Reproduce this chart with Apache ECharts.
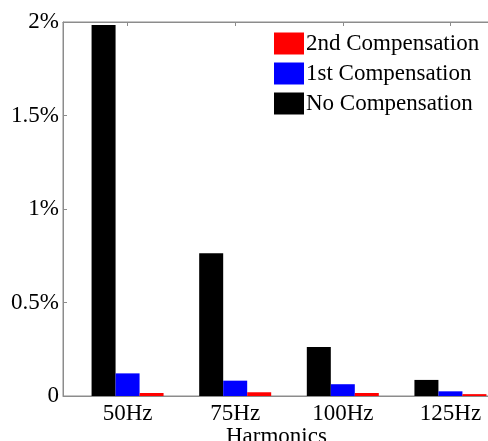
<!DOCTYPE html>
<html><head><meta charset="utf-8">
<script src="https://cdn.jsdelivr.net/npm/echarts@6/dist/echarts.min.js"></script>
<style>html,body{margin:0;padding:0;background:#fff}#c{width:488px;height:441px}</style>
</head><body><div id="c"></div>
<script>
const categories = ['50Hz', '75Hz', '100Hz', '125Hz'];
const noComp = [1.984, 0.763, 0.262, 0.086];
const firstComp = [0.121, 0.082, 0.063, 0.025];
const secondComp = [0.016, 0.020, 0.016, 0.010];
const yTickValues = [0, 0.5, 1, 1.5, 2];
const yTickLabels = ['0', '0.5%', '1%', '1.5%', '2%'];
const catPos = [1, 2, 3, 4];

const font = 'Liberation Serif';
const grey = '#8c8c8c';
const toPts = arr => arr.map((v, i) => [catPos[i], v]);

const chart = echarts.init(document.getElementById('c'), null, {renderer: 'canvas'});
chart.setOption({
  animation: false,
  backgroundColor: '#fff',
  grid: {left: 63, top: 22, height: 374, width: 452, show: true, borderColor: grey, borderWidth: 1,
    containLabel: false, outerBoundsMode: 'none'},
  legend: {
    orient: 'vertical', left: 274, top: 32, padding: 0, itemWidth: 30, itemHeight: 22, itemGap: 7,
    data: ['2nd Compensation', '1st Compensation', 'No Compensation'],
    textStyle: {fontFamily: font, fontSize: 23, color: '#000', padding: [0, 0, 0, -3]},
    icon: 'rect'
  },
  xAxis: [{
    type: 'value', min: 0.4, max: 4.6, position: 'bottom',
    axisLine: {show: true, lineStyle: {color: grey, width: 1}},
    splitLine: {show: false},
    axisTick: {show: true, inside: true, length: 4, customValues: catPos, lineStyle: {color: grey}},
    axisLabel: {customValues: catPos, formatter: v => categories[catPos.indexOf(v)] || '',
      fontFamily: font, fontSize: 23, color: '#000', margin: 6}
  }, {
    type: 'value', min: 0.4, max: 4.6, position: 'top',
    axisLine: {show: true, lineStyle: {color: grey, width: 1}},
    splitLine: {show: false},
    axisTick: {show: true, inside: true, length: 4, customValues: catPos, lineStyle: {color: grey}},
    axisLabel: {show: false}
  }],
  yAxis: {
    type: 'value', min: 0, max: 2, interval: 0.5,
    axisLine: {show: true, lineStyle: {color: grey, width: 1}},
    splitLine: {show: false},
    axisTick: {show: true, inside: true, length: 4, lineStyle: {color: grey}},
    axisLabel: {formatter: v => yTickLabels[yTickValues.indexOf(v)] ?? '',
      fontFamily: font, fontSize: 23, color: '#000', margin: 4}
  },
  graphic: [{
    type: 'text', left: 226, top: 425,
    style: {text: 'Harmonics', font: '23px "Liberation Serif"', fill: '#000'}
  }],
  series: [
    {name: 'No Compensation', type: 'bar', data: toPts(noComp), barWidth: 24, barGap: '0%', itemStyle: {color: '#000'}},
    {name: '1st Compensation', type: 'bar', data: toPts(firstComp), barWidth: 24, barGap: '0%', itemStyle: {color: '#0000ff'}},
    {name: '2nd Compensation', type: 'bar', data: toPts(secondComp), barWidth: 24, barGap: '0%', itemStyle: {color: '#ff0000'}}
  ]
});
</script></body></html>
